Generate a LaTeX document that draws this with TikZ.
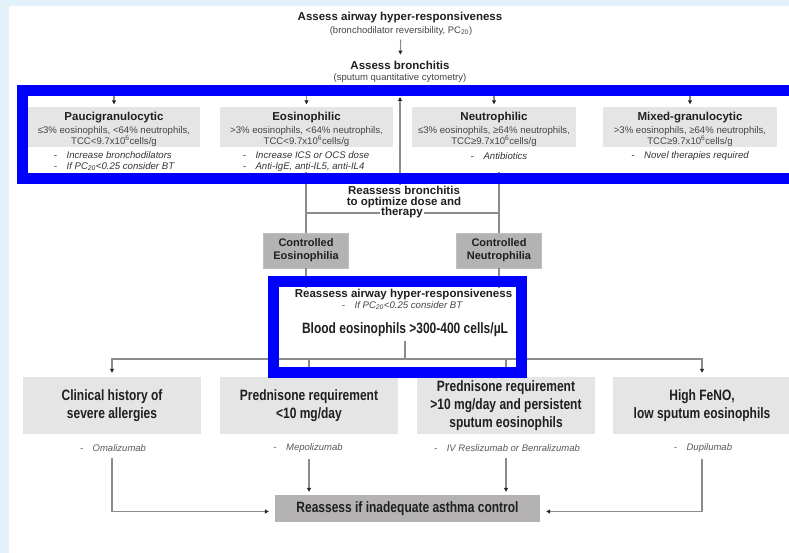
\documentclass[tikz,border=0pt]{standalone}
\usepackage{fontspec}
\setmainfont{Liberation Sans}
\newfontfamily\narrowsans[FakeStretch=0.8]{Liberation Sans}
\usetikzlibrary{arrows.meta}

\definecolor{slideblue}{HTML}{E3F1FA}
\definecolor{boxgrey}{HTML}{E6E5E5}
\definecolor{darkgrey}{HTML}{B4B2B2}
\definecolor{linegrey}{HTML}{8C8C8C}
\definecolor{txtgrey}{HTML}{444444}
\definecolor{frameblue}{HTML}{0000FF}

\newcommand{\phtitle}[1]{{\fontsize{11.5}{12}\selectfont\bfseries\color{black!88}\rule{0pt}{12pt}#1}}

\tikzset{
  head/.style={font=\fontsize{11.5}{11}\selectfont\bfseries, align=center},
  note/.style={font=\fontsize{9.5}{11}\selectfont, text=txtgrey},
  pheno/.style={fill=boxgrey, minimum height=40pt, align=center, inner sep=0pt,
    font=\fontsize{9.6}{11.5}\selectfont, text=txtgrey},
  treat/.style={font=\fontsize{9.6}{10.5}\selectfont\itshape, align=left, text=black!80},
  ctrlbox/.style={fill=darkgrey, draw=black!25, minimum width=85pt, minimum height=35pt,
    font=\fontsize{11}{13}\selectfont\bfseries, align=center},
  factor/.style={fill=boxgrey, minimum width=178pt, minimum height=57pt, align=center,
    font=\narrowsans\bfseries\fontsize{15}{18}\selectfont},
  drug/.style={font=\fontsize{9.5}{11}\selectfont\itshape, text=black!65},
  conn/.style={draw=linegrey, line width=1.1pt},
  arr/.style={conn, -{Triangle[length=4pt, width=4pt, color=black!85]}},
  frame/.style={draw=frameblue, line width=11pt}
}

\begin{document}
\begin{tikzpicture}[x=1pt, y=-1pt, every node/.style={inner sep=1pt, text=black!88}]
  \useasboundingbox (0,0) rectangle (789,553);
  \fill[slideblue] (0,0) rectangle (789,553);
  \fill[white] (9,6) rectangle (789,553);

  \node[head] (ahr) at (400,18) {Assess airway hyper-responsiveness};
  \node[note] (ahrsub) at (401,31) {(bronchodilator reversibility, PC\textsubscript{20})};
  \node[head] (ab) at (400,65) {Assess bronchitis};
  \node[note] (absub) at (400,78) {(sputum quantitative cytometry)};
  \draw[arr, shorten <=3pt, shorten >=5pt] (ahrsub) -- (ab);

  \node[pheno, minimum width=172pt] (pauci) at (114,127.5)
    {\phtitle{Paucigranulocytic}\\[1pt]≤3\% eosinophils, <64\% neutrophils,\\TCC<9.7x10\textsuperscript{6}cells/g};
  \node[pheno, minimum width=173pt] (eosino) at (306.5,127.5)
    {\phtitle{Eosinophilic}\\[1pt]>3\% eosinophils, <64\% neutrophils,\\TCC<9.7x10\textsuperscript{6}cells/g};
  \node[pheno, minimum width=164pt] (neutro) at (494,127.5)
    {\phtitle{Neutrophilic}\\[1pt]≤3\% eosinophils, ≥64\% neutrophils,\\TCC≥9.7x10\textsuperscript{6}cells/g};
  \node[pheno, minimum width=174pt] (mixed) at (690,127.5)
    {\phtitle{Mixed-granulocytic}\\[1pt]>3\% eosinophils, ≥64\% neutrophils,\\TCC≥9.7x10\textsuperscript{6}cells/g};

  \node[treat] (rpauci) at (114,161.5)
    {-\quad Increase bronchodilators\\-\quad If PC\textsubscript{20}<0.25 consider BT};
  \node[treat] (reosino) at (306,161.5)
    {-\quad Increase ICS or OCS dose\\-\quad Anti-IgE, anti-IL5, anti-IL4};
  \node[treat] (rneutro) at (499,156.5) {-\quad Antibiotics};
  \node[treat] (rmixed) at (690,156.5) {-\quad Novel therapies required};

  \coordinate (split) at (400,90);
  \foreach \ph in {pauci,eosino,neutro,mixed}
    \draw[arr, shorten >=3pt] (split) -| (\ph.north);

  \node[ctrlbox] (ctrleos) at (306,250.5) {Controlled\\Eosinophilia};
  \node[ctrlbox] (ctrlneu) at (499,250.5) {Controlled\\Neutrophilia};
  \draw[conn] (reosino.south) -- (ctrleos.north);
  \draw[conn] (rneutro.south |- reosino.south) -- (ctrlneu.north);

  \node[head] (rebron) at (404,197) {Reassess bronchitis\\to optimize dose and};
  \node[head] (rebronth) at (402,213) {therapy};
  \draw[conn] (ctrleos.north |- rebronth) -- (rebronth.west);
  \draw[conn] (rebronth.east) -- (ctrlneu.north |- rebronth);
  \draw[arr, shorten >=7pt] (rebron.north -| split) -- (split);

  \node[head] (reahr) at (403.5,295) {Reassess airway hyper-responsiveness};
  \node[note, font=\fontsize{9.6}{11}\selectfont\itshape] (reahrbt) at (402,305.5)
    {-\quad If PC\textsubscript{20}<0.25 consider BT};
  \node[font=\narrowsans\bfseries\fontsize{15}{18}\selectfont] (bloodeos) at (405,330)
    {Blood eosinophils >300-400 cells/µL};
  \draw[arr] (ctrleos.south) -- (ctrleos.south |- reahr.north);
  \draw[arr] (ctrlneu.south) -- (ctrlneu.south |- reahr.north);

  \node[factor] (allergy) at (112,405.5) {Clinical history of\\severe allergies};
  \node[factor] (predlow) at (309,405.5) {Prednisone requirement\\<10 mg/day};
  \node[factor] (predhigh) at (506,405.5) {Prednisone requirement\\>10 mg/day and persistent\\sputum eosinophils};
  \node[factor] (feno) at (702,405.5) {High FeNO,\\low sputum eosinophils};

  \coordinate (fork) at (405,359);
  \draw[conn] (bloodeos.south) ++(0,3) -- (fork);
  \foreach \fc in {allergy,predlow,predhigh,feno}
    \draw[arr, shorten >=4pt] (fork) -| (\fc.north);

  \node[drug] (oma) at (113,448) {-\quad Omalizumab};
  \node[drug] (mepo) at (308,448) {-\quad Mepolizumab};
  \node[drug] (resli) at (507,448) {-\quad IV Reslizumab or Benralizumab};
  \node[drug] (dupi) at (703,448) {-\quad Dupilumab};

  \node[fill=darkgrey, minimum width=265pt, minimum height=27pt,
    font=\narrowsans\bfseries\fontsize{15}{18}\selectfont] (control) at (407.5,508.5)
    {Reassess if inadequate asthma control};
  \draw[arr, shorten <=5pt, shorten >=6pt] (allergy.south |- oma.south) |- ([yshift=-3pt]control.west);
  \draw[arr, shorten <=5pt, shorten >=3pt] (mepo.south -| predlow.south) -- (predlow.south |- control.north);
  \draw[arr, shorten <=5pt, shorten >=3pt] (resli.south -| predhigh.south) -- (predhigh.south |- control.north);
  \draw[arr, shorten <=5pt, shorten >=6pt] (feno.south |- dupi.south) |- ([yshift=-3pt]control.east);

  \draw[frame] (22.5,90.5) rectangle (795,179);
  \draw[frame] (273.5,281.5) rectangle (521.5,372.5);
\end{tikzpicture}
\end{document}
